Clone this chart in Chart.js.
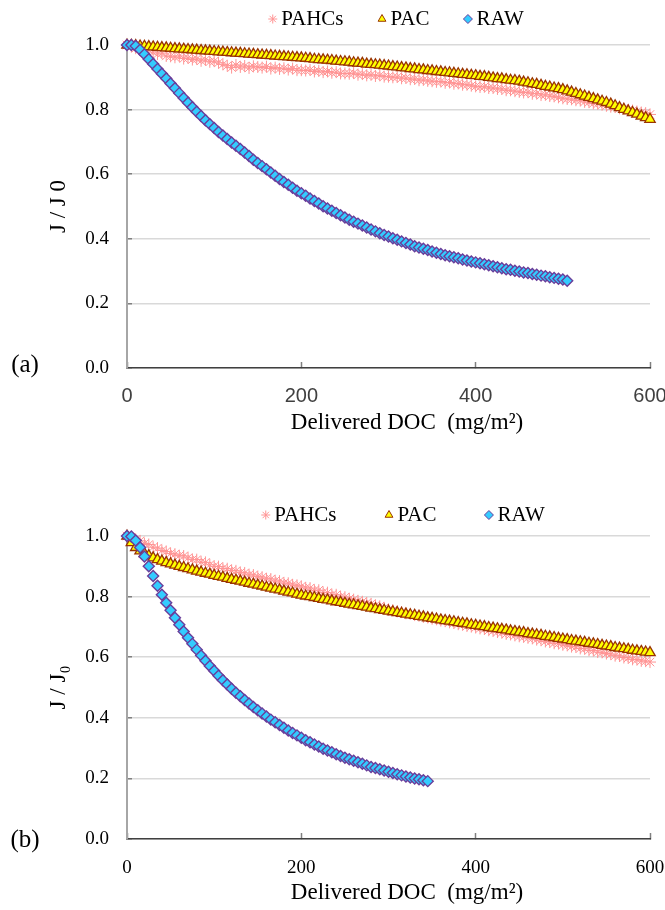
<!DOCTYPE html>
<html>
<head>
    <title>Flux decline vs delivered DOC</title>
    <script src="https://cdn.jsdelivr.net/npm/chart.js"></script>
    <style>
        body { margin: 0; background: #fff; }
        .wrap { position: relative; width: 665px; height: 910px; }
        .wrap canvas { position: absolute; left: 0; }
        #chartA { top: 0; }
        #chartB { top: 455px; }
    </style>
</head>
<body>
    <div class="wrap">
        <canvas id="chartA" width="665" height="455"></canvas>
        <canvas id="chartB" width="665" height="455"></canvas>
    </div>

    <script>
        // delivered DOC (mg/m2), shared x values for all series
        const doc = [0,5,10,15,20,25,30,35,40,45,50,55,60,65,70,75,80,85,90,95,100,105,110,115,120,125,130,135,140,145,150,155,160,165,170,175,180,185,190,195,200,205,210,215,220,225,230,235,240,245,250,255,260,265,270,275,280,285,290,295,300,305,310,315,320,325,330,335,340,345,350,355,360,365,370,375,380,385,390,395,400,405,410,415,420,425,430,435,440,445,450,455,460,465,470,475,480,485,490,495,500,505,510,515,520,525,530,535,540,545,550,555,560,565,570,575,580,585,590,595,600];

        const seriesNames = ['PAHCs', 'PAC', 'RAW'];
        const xTicks = ['0', '200', '400', '600'];
        const yTicks = ['0.0', '0.2', '0.4', '0.6', '0.8', '1.0'];

        // panel (a)
        const pahcsA = [1.000,0.996,0.990,0.988,0.982,0.985,0.978,0.972,0.975,0.966,0.965,
            0.962,0.966,0.958,0.960,0.955,0.957,0.951,0.954,0.948,0.950,
            0.945,0.940,0.936,0.930,0.938,0.932,0.935,0.929,0.934,0.932,
            0.930,0.933,0.927,0.930,0.926,0.928,0.924,0.927,0.922,0.922,
            0.921,0.923,0.918,0.920,0.916,0.918,0.914,0.916,0.912,0.912,
            0.911,0.913,0.908,0.910,0.906,0.908,0.904,0.906,0.902,0.902,
            0.900,0.901,0.897,0.898,0.894,0.895,0.891,0.892,0.889,0.888,
            0.886,0.887,0.883,0.884,0.880,0.881,0.877,0.877,0.874,0.872,
            0.870,0.871,0.867,0.867,0.864,0.864,0.860,0.860,0.857,0.855,
            0.853,0.854,0.849,0.850,0.845,0.846,0.842,0.841,0.838,0.835,
            0.833,0.832,0.829,0.828,0.824,0.823,0.819,0.818,0.815,0.812,
            0.809,0.808,0.804,0.803,0.799,0.797,0.794,0.791,0.789,0.785];
        const pacA = [1.000,0.999,0.998,0.997,0.996,0.995,0.994,0.993,0.992,0.991,0.990,
            0.989,0.988,0.987,0.986,0.985,0.984,0.983,0.982,0.981,0.980,
            0.979,0.978,0.977,0.976,0.975,0.974,0.973,0.972,0.971,0.970,
            0.969,0.968,0.967,0.966,0.965,0.964,0.963,0.962,0.961,0.960,
            0.959,0.958,0.956,0.955,0.954,0.953,0.952,0.950,0.949,0.948,
            0.947,0.945,0.944,0.943,0.941,0.940,0.939,0.938,0.936,0.935,
            0.933,0.932,0.930,0.929,0.927,0.926,0.924,0.923,0.921,0.920,
            0.918,0.917,0.915,0.914,0.912,0.911,0.909,0.908,0.906,0.905,
            0.903,0.902,0.900,0.898,0.896,0.895,0.893,0.891,0.890,0.888,
            0.885,0.883,0.880,0.878,0.875,0.872,0.870,0.867,0.865,0.862,
            0.858,0.854,0.850,0.846,0.842,0.838,0.834,0.830,0.826,0.822,
            0.817,0.812,0.806,0.801,0.796,0.791,0.786,0.780,0.775,0.770];
        const rawA = [1.000,1.000,0.997,0.985,0.971,0.956,0.941,0.926,0.911,0.896,0.881,
            0.866,0.851,0.836,0.821,0.807,0.793,0.780,0.767,0.755,0.743,
            0.731,0.720,0.709,0.698,0.688,0.678,0.667,0.656,0.645,0.635,
            0.625,0.615,0.605,0.595,0.585,0.576,0.567,0.558,0.549,0.541,
            0.533,0.525,0.517,0.509,0.501,0.494,0.487,0.480,0.473,0.466,
            0.459,0.453,0.447,0.441,0.435,0.429,0.423,0.417,0.412,0.407,
            0.402,0.397,0.392,0.387,0.382,0.377,0.373,0.369,0.365,0.361,
            0.357,0.353,0.349,0.346,0.343,0.340,0.336,0.333,0.330,0.327,
            0.324,0.321,0.318,0.315,0.312,0.309,0.306,0.304,0.301,0.299,
            0.296,0.294,0.291,0.289,0.286,0.284,0.281,0.279,0.276,0.274,
            0.270];

        // panel (b)
        const pahcsB = [1.000,0.996,0.988,0.984,0.975,0.972,0.963,0.960,0.952,0.949,0.942,
            0.940,0.935,0.934,0.928,0.922,0.922,0.914,0.913,0.905,0.900,
            0.899,0.893,0.892,0.886,0.885,0.879,0.878,0.872,0.871,0.866,
            0.864,0.859,0.858,0.852,0.851,0.845,0.844,0.839,0.837,0.834,
            0.829,0.828,0.821,0.821,0.814,0.813,0.806,0.806,0.799,0.798,
            0.793,0.790,0.786,0.783,0.779,0.776,0.771,0.768,0.763,0.757,
            0.755,0.751,0.749,0.745,0.743,0.739,0.737,0.733,0.731,0.727,
            0.725,0.721,0.719,0.715,0.713,0.709,0.707,0.703,0.701,0.698,
            0.695,0.693,0.689,0.687,0.683,0.681,0.677,0.675,0.672,0.669,
            0.667,0.664,0.662,0.658,0.656,0.652,0.650,0.646,0.645,0.641,
            0.639,0.635,0.634,0.629,0.628,0.623,0.622,0.617,0.616,0.612,
            0.610,0.605,0.604,0.599,0.598,0.593,0.592,0.588,0.587,0.584];
        const pacB = [1.000,0.978,0.962,0.951,0.942,0.935,0.928,0.922,0.917,0.912,0.908,
            0.904,0.900,0.896,0.892,0.888,0.884,0.881,0.877,0.874,0.870,
            0.867,0.864,0.860,0.857,0.854,0.851,0.848,0.844,0.841,0.838,
            0.835,0.831,0.828,0.825,0.822,0.818,0.815,0.812,0.808,0.805,
            0.802,0.800,0.797,0.794,0.791,0.789,0.786,0.783,0.781,0.778,
            0.775,0.773,0.770,0.768,0.765,0.762,0.760,0.757,0.755,0.752,
            0.750,0.747,0.745,0.742,0.740,0.738,0.735,0.733,0.730,0.728,
            0.726,0.723,0.721,0.719,0.717,0.714,0.712,0.710,0.707,0.705,
            0.703,0.701,0.698,0.696,0.694,0.692,0.690,0.687,0.685,0.683,
            0.681,0.678,0.676,0.674,0.672,0.669,0.667,0.665,0.662,0.660,
            0.658,0.655,0.653,0.651,0.649,0.646,0.644,0.642,0.639,0.637,
            0.635,0.632,0.630,0.628,0.626,0.623,0.621,0.619,0.617,0.615];
        const rawB = [1.000,0.998,0.985,0.962,0.932,0.900,0.868,0.836,0.806,0.780,0.755,
            0.730,0.707,0.685,0.664,0.644,0.625,0.606,0.588,0.571,0.555,
            0.539,0.524,0.510,0.496,0.483,0.471,0.459,0.447,0.436,0.425,
            0.414,0.404,0.394,0.385,0.376,0.367,0.358,0.350,0.342,0.334,
            0.326,0.319,0.312,0.305,0.298,0.292,0.286,0.280,0.274,0.268,
            0.263,0.258,0.253,0.248,0.243,0.238,0.234,0.230,0.226,0.222,
            0.218,0.214,0.210,0.206,0.203,0.200,0.197,0.194,0.191];

        Chart.defaults.font.family = '"Liberation Serif", "Times New Roman", serif';
        Chart.defaults.color = '#000';

        function toPoints(values) {
            return values.map((v, i) => ({ x: doc[i], y: v }));
        }

        function makeSets(pahcs, pac, raw) {
            return [{
                label: seriesNames[0],
                data: toPoints(pahcs),
                pointStyle: 'star',
                pointRadius: 6,
                borderWidth: 1,
                borderColor: '#ff9494',
                backgroundColor: '#ff9494',
                order: 3
            }, {
                label: seriesNames[1],
                data: toPoints(pac),
                pointStyle: 'triangle',
                pointRadius: 6,
                borderWidth: 1.3,
                borderColor: '#993300',
                backgroundColor: '#ffff00',
                order: 2
            }, {
                label: seriesNames[2],
                data: toPoints(raw),
                pointStyle: 'rectRot',
                pointRadius: 5.5,
                borderWidth: 1.4,
                borderColor: '#6a3d9a',
                backgroundColor: '#33ccff',
                order: 1
            }];
        }

        // legend across the top, panel letter and x axis title
        const panelText = {
            id: 'panelText',
            afterDraw(chart, args, o) {
                const ctx = chart.ctx;
                const sets = chart.data.datasets;
                ctx.save();
                ctx.font = '21px "Liberation Serif"';
                ctx.textBaseline = 'middle';
                ctx.textAlign = 'left';
                const widths = sets.map(ds => ctx.measureText(ds.label).width);
                const markW = 13;
                const total = widths.reduce((s, w) => s + markW + w, 0) + o.gap * (sets.length - 1);
                let x = o.legendX - total / 2;
                sets.forEach((ds, i) => {
                    ctx.fillStyle = ds.backgroundColor;
                    ctx.strokeStyle = ds.borderColor;
                    ctx.lineWidth = 1;
                    Chart.helpers.drawPoint(ctx, { pointStyle: ds.pointStyle, radius: 4.5, borderWidth: 1, rotation: 0 }, x + 4.5, o.legendY);
                    ctx.fillStyle = '#000';
                    ctx.fillText(ds.label, x + markW, o.legendY);
                    x += markW + widths[i] + o.gap;
                });
                ctx.textAlign = 'center';
                ctx.font = '25px "Liberation Serif"';
                ctx.fillText(o.panel, 25, o.panelY);
                ctx.font = '23px "Liberation Serif"';
                ctx.fillText('Delivered DOC  (mg/m\u00B2)', o.titleX, o.titleY);
                ctx.restore();
            }
        };

        function drawPanel(id, sets, p) {
            return new Chart(document.getElementById(id), {
                type: 'scatter',
                data: { datasets: sets },
                options: {
                    responsive: false,
                    animation: false,
                    events: [],
                    layout: { padding: { left: 44, right: 15, top: p.top, bottom: 0 } },
                    datasets: { scatter: { clip: false } },
                    plugins: {
                        legend: { display: false },
                        tooltip: { enabled: false },
                        panelText: p.text
                    },
                    scales: {
                        x: {
                            type: 'linear',
                            min: 0,
                            max: 600,
                            ticks: {
                                stepSize: 200,
                                padding: p.xPad,
                                font: p.xFont,
                                color: p.xColor,
                                callback: (v, i) => xTicks[i]
                            },
                            grid: { drawOnChartArea: false, tickLength: -6, tickColor: '#808080', tickWidth: 1.5 },
                            border: { color: '#404040', width: 1.5 },
                            afterFit: s => { s.height = p.xHeight; s.paddingLeft = 0; s.paddingRight = 0; }
                        },
                        y: {
                            min: 0,
                            max: 1,
                            ticks: {
                                stepSize: 0.2,
                                padding: 23,
                                font: { size: 19 },
                                callback: (v, i) => yTicks[i]
                            },
                            grid: { color: '#d9d9d9', lineWidth: 1.5, tickLength: -5, tickColor: '#808080' },
                            border: { color: '#a6a6a6', width: 2 },
                            title: { display: true, text: p.yTitle, font: { size: 23 }, padding: { top: 1, bottom: 0 } },
                            afterFit: s => { s.width = 83; s.paddingTop = 0; s.paddingBottom = 0; }
                        }
                    }
                },
                plugins: [panelText]
            });
        }

        drawPanel('chartA', makeSets(pahcsA, pacA, rawA), {
            top: 45,
            xHeight: 87,
            xPad: 22,
            xFont: { family: '"Liberation Sans", Arial, sans-serif', size: 20 },
            xColor: '#404040',
            yTitle: 'J / J 0',
            text: { legendX: 396, legendY: 19, gap: 34, panel: '(a)', panelY: 365, titleX: 407, titleY: 423 }
        });

        drawPanel('chartB', makeSets(pahcsB, pacB, rawB), {
            top: 81,
            xHeight: 71,
            xPad: 24,
            xFont: { size: 19 },
            xColor: '#000',
            yTitle: 'J / J\u2080',
            text: { legendX: 403, legendY: 60, gap: 48, panel: '(b)', panelY: 385, titleX: 407, titleY: 438 }
        });
    </script>
</body>
</html>
